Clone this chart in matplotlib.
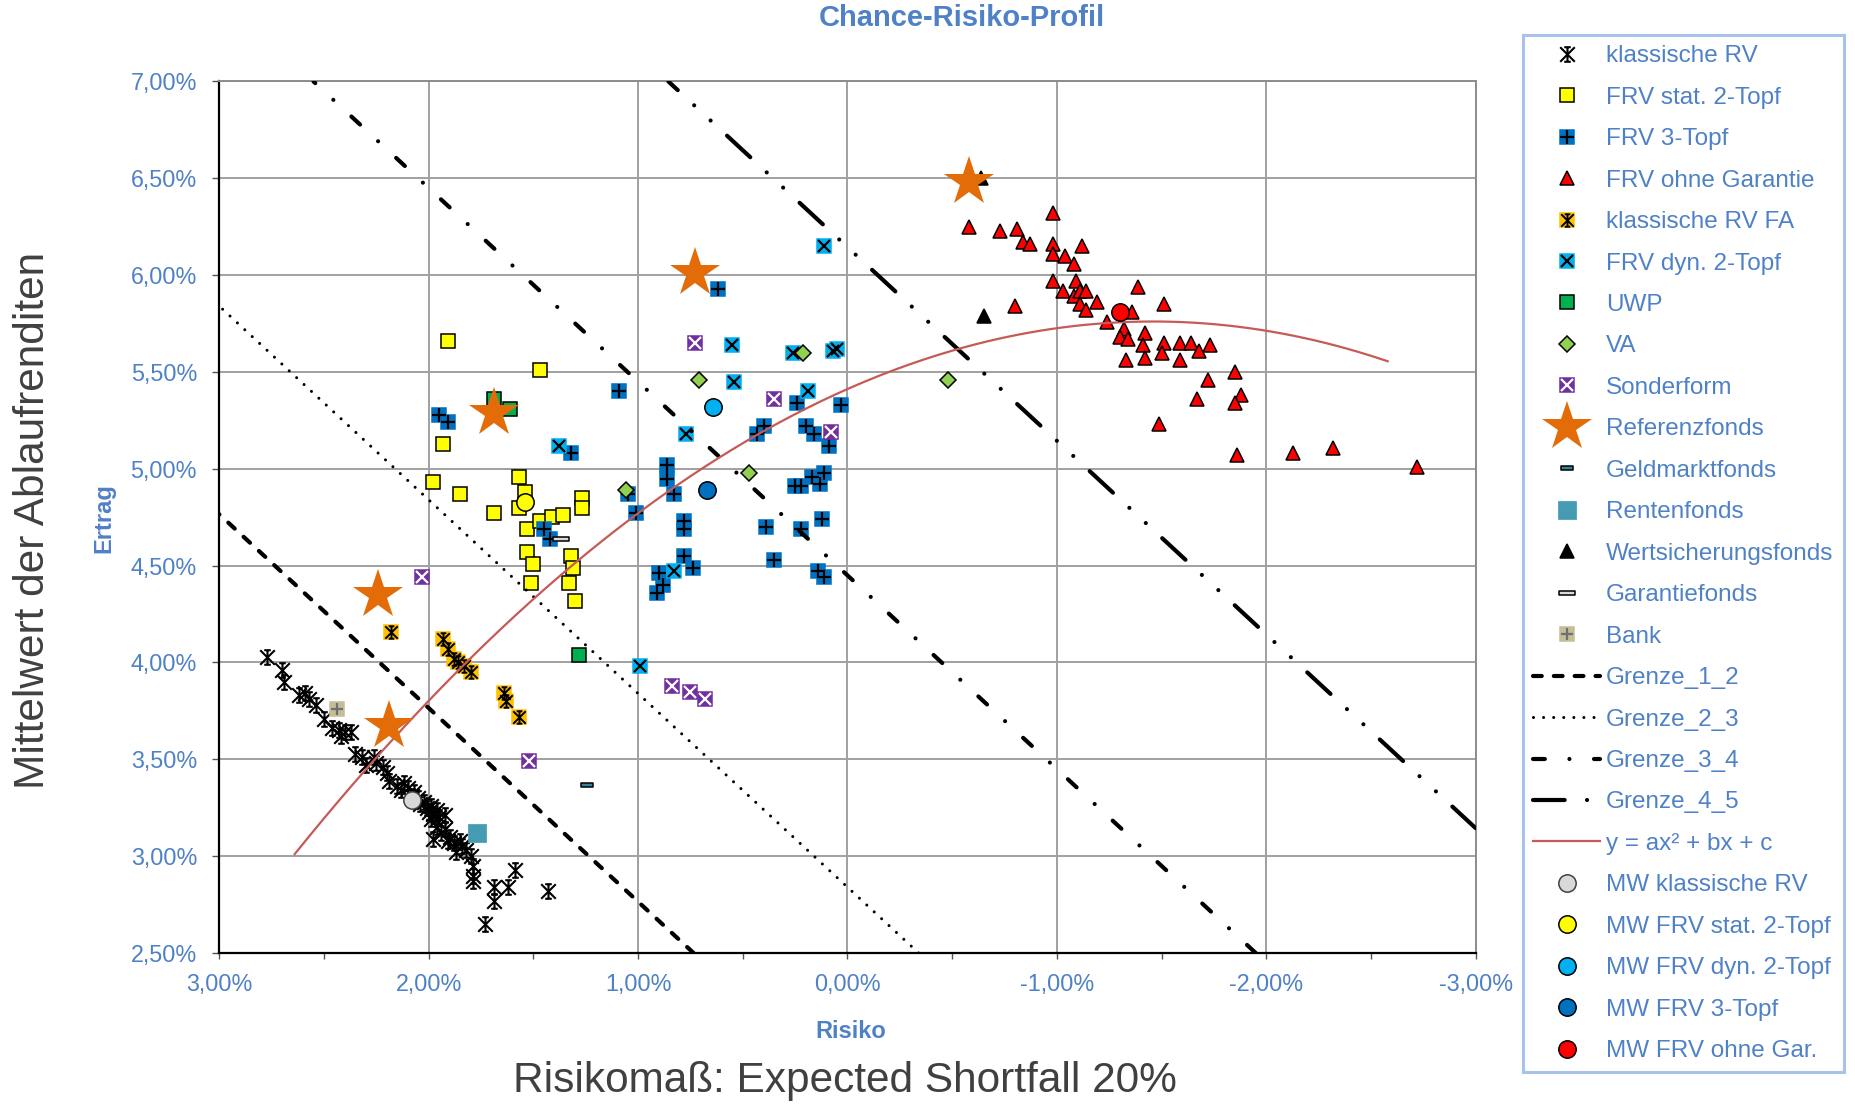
import matplotlib.pyplot as plt
import numpy as np
from matplotlib.path import Path
from matplotlib.ticker import MultipleLocator, FuncFormatter

plt.rcParams['font.family'] = ['Liberation Sans', 'DejaVu Sans']

BLUE_TEXT = '#4F81C7'

# ---------------- data (Risiko %, Ertrag %) ----------------
krv_risk = [2.77, 2.70, 2.69, 2.62, 2.59, 2.57, 2.54, 2.50, 2.46, 2.43, 2.40, 2.37, 2.42, 2.35,
            2.32, 2.30, 2.26, 2.25, 2.22, 2.20, 2.19, 2.15, 2.13, 2.12, 2.10, 2.08, 2.07, 2.05,
            2.04, 2.02, 2.01, 1.99, 1.98, 2.00, 1.96, 1.95, 1.92, 1.99, 1.96, 1.94, 1.92, 1.98,
            1.91, 1.90, 1.88, 1.85, 1.87, 1.84, 1.82, 1.80, 1.79, 1.79, 1.79, 1.69, 1.69, 1.62,
            1.59, 1.43, 1.73]
krv_ret = [4.03, 3.96, 3.90, 3.83, 3.84, 3.81, 3.78, 3.71, 3.66, 3.65, 3.64, 3.64, 3.62, 3.53,
           3.51, 3.47, 3.51, 3.48, 3.46, 3.43, 3.39, 3.36, 3.34, 3.38, 3.35, 3.31, 3.33, 3.30,
           3.27, 3.28, 3.25, 3.26, 3.22, 3.23, 3.24, 3.20, 3.21, 3.19, 3.15, 3.12, 3.14, 3.09,
           3.08, 3.10, 3.07, 3.08, 3.02, 3.05, 3.03, 3.00, 2.95, 2.90, 2.87, 2.84, 2.77, 2.84,
           2.93, 2.82, 2.65]

stat2_risk = [1.91, 1.47, 1.93, 1.98, 1.85, 1.69, 1.57, 1.54, 1.57, 1.53, 1.47, 1.41, 1.36,
              1.27, 1.27, 1.53, 1.50, 1.32, 1.31, 1.51, 1.33, 1.30]
stat2_ret = [5.66, 5.51, 5.13, 4.93, 4.87, 4.77, 4.96, 4.88, 4.80, 4.69, 4.73, 4.75, 4.76,
             4.85, 4.80, 4.57, 4.51, 4.55, 4.49, 4.41, 4.41, 4.32]

top3_risk = [1.95, 1.91, 1.32, 1.09, 1.45, 1.42, 1.05, 1.01, 0.86, 0.86, 0.83, 0.78, 0.78,
             0.78, 0.74, 0.90, 0.88, 0.91, 0.62, 0.24, 0.03, 0.40, 0.43, 0.20, 0.16, 0.09,
             0.25, 0.22, 0.17, 0.11, 0.13, 0.39, 0.22, 0.12, 0.35, 0.14, 0.11]
top3_ret = [5.28, 5.24, 5.08, 5.40, 4.69, 4.64, 4.87, 4.77, 5.02, 4.95, 4.87, 4.73, 4.69,
            4.55, 4.49, 4.46, 4.40, 4.36, 5.93, 5.34, 5.33, 5.22, 5.18, 5.22, 5.18, 5.12,
            4.91, 4.91, 4.96, 4.98, 4.92, 4.70, 4.69, 4.74, 4.53, 4.47, 4.44]

ohne_risk = [-0.58, -0.73, -0.81, -0.84, -0.87, -0.98, -0.98, -0.98, -1.04, -1.12, -1.08,
             -0.98, -1.03, -1.09, -1.08, -1.11, -1.14, -1.11, -1.14, -1.19, -1.39, -0.80,
             -1.51, -1.24, -1.36, -1.32, -1.30, -1.34, -1.42, -1.41, -1.51, -1.50, -1.59,
             -1.64, -1.68, -1.73, -1.33, -1.42, -1.59, -1.85, -1.72, -1.88, -1.85, -1.67,
             -1.49, -1.86, -2.13, -2.32, -2.72]
ohne_ret = [6.25, 6.23, 6.24, 6.17, 6.16, 6.32, 6.16, 6.11, 6.10, 6.15, 6.06,
            5.97, 5.92, 5.97, 5.89, 5.92, 5.92, 5.85, 5.82, 5.86, 5.94, 5.84,
            5.85, 5.76, 5.81, 5.72, 5.68, 5.67, 5.70, 5.64, 5.65, 5.60, 5.65,
            5.65, 5.61, 5.64, 5.56, 5.57, 5.56, 5.50, 5.46, 5.38, 5.34, 5.36,
            5.23, 5.07, 5.08, 5.11, 5.01]

fa_risk = [2.18, 1.93, 1.91, 1.88, 1.86, 1.83, 1.80, 1.64, 1.63, 1.57]
fa_ret = [4.16, 4.12, 4.07, 4.02, 4.00, 3.98, 3.95, 3.84, 3.80, 3.72]

dyn2_risk = [1.38, 0.77, 0.83, 0.11, 0.55, 0.26, 0.07, 0.05, 0.54, 0.19, 0.99]
dyn2_ret = [5.12, 5.18, 4.47, 6.15, 5.64, 5.60, 5.61, 5.62, 5.45, 5.40, 3.98]

uwp_risk = [1.69, 1.61, 1.28]
uwp_ret = [5.36, 5.31, 4.04]

va_risk = [0.71, 0.21, 0.47, 1.06, -0.48]
va_ret = [5.46, 5.60, 4.98, 4.89, 5.46]

sonder_risk = [0.73, 0.35, 0.08, 2.03, 1.52, 0.84, 0.75, 0.68]
sonder_ret = [5.65, 5.36, 5.19, 4.44, 3.49, 3.88, 3.85, 3.81]

ref_risk = [2.24, 2.19, 1.69, 0.73, -0.58]
ref_ret = [4.35, 3.67, 5.29, 6.01, 6.48]

geld_risk, geld_ret = [1.245], [3.37]
renten_risk, renten_ret = [1.77], [3.12]
wert_risk, wert_ret = [-0.65, -0.64], [5.79, 6.50]
garantie_risk, garantie_ret = [1.37], [4.64]
bank_risk, bank_ret = [2.44], [3.76]

# boundary lines: Ertrag = Risiko + intercept
grenze_slope = 1.0
grenze_intercepts = [1.765, 2.84, 4.45, 6.145]
grenze_names = ['Grenze_1_2', 'Grenze_2_3', 'Grenze_3_4', 'Grenze_4_5']

# quadratic trend y = ax^2 + bx + c, drawn between its two end points
fit_coef = [-0.1636, -0.4777, 5.412]
fit_range = [2.64, -2.58]

mw_names = ['MW klassische RV', 'MW FRV stat. 2-Topf', 'MW FRV dyn. 2-Topf',
            'MW FRV 3-Topf', 'MW FRV ohne Gar.']
mw_risk = [2.08, 1.54, 0.64, 0.67, -1.30]
mw_ret = [3.29, 4.83, 5.32, 4.89, 5.81]
mw_colors = ['#D9D9D9', '#FFFF00', '#00B0F0', '#0070C0', '#FF0000']


def asterisk_path():
    verts = [(-1, -1), (1, 1), (-1, 1), (1, -1), (0, -1), (0, 1),
             (-0.45, 1), (0.45, 1), (-0.45, -1), (0.45, -1)]
    return Path(verts, [Path.MOVETO, Path.LINETO] * 5)


def bar_path(h):
    verts = [(-1, -h), (1, -h), (1, h), (-1, h), (-1, -h)]
    return Path(verts, [Path.MOVETO, Path.LINETO, Path.LINETO, Path.LINETO, Path.CLOSEPOLY])


fig = plt.figure(figsize=(18.56, 11.04), dpi=100)
ax = fig.add_axes([0.11816, 0.13678, 0.67688, 0.78940])


def pts(x, y, **kw):
    return ax.plot(x, y, linestyle='none', **kw)[0]


SQ = 10.2
EDGE = 1.1
star = asterisk_path()

h_krv = pts(krv_risk, krv_ret, marker=star, ms=10.5, mfc='none', mec='black', mew=1.5, zorder=3)
h_stat2 = pts(stat2_risk, stat2_ret, marker='s', ms=SQ, mfc='#FFFF00', mec='black', mew=EDGE, zorder=3)
h_top3a = pts(top3_risk, top3_ret, marker='s', ms=SQ, mfc='#0070C0', mec='#0070C0', mew=EDGE, zorder=3)
h_top3b = pts(top3_risk, top3_ret, marker='+', ms=9.5, mec='black', mew=1.6, zorder=3)
h_ohne = pts(ohne_risk, ohne_ret, marker='^', ms=10.5, mfc='#FF0000', mec='black', mew=EDGE, zorder=3)
h_faa = pts(fa_risk, fa_ret, marker='s', ms=SQ, mfc='#FFC000', mec='#FFC000', mew=EDGE, zorder=3)
h_fab = pts(fa_risk, fa_ret, marker=star, ms=9, mfc='none', mec='black', mew=1.4, zorder=3)
h_dyna = pts(dyn2_risk, dyn2_ret, marker='s', ms=SQ, mfc='#00B0F0', mec='#00B0F0', mew=EDGE, zorder=3)
h_dynb = pts(dyn2_risk, dyn2_ret, marker='x', ms=8.5, mec='black', mew=1.6, zorder=3)
h_uwp = pts(uwp_risk, uwp_ret, marker='s', ms=SQ, mfc='#00B050', mec='black', mew=EDGE, zorder=3)
h_va = pts(va_risk, va_ret, marker='D', ms=8, mfc='#92D050', mec='black', mew=EDGE, zorder=3)
h_sona = pts(sonder_risk, sonder_ret, marker='s', ms=SQ, mfc='#7030A0', mec='#7030A0', mew=EDGE, zorder=3)
h_sonb = pts(sonder_risk, sonder_ret, marker='x', ms=8.5, mec='white', mew=1.6, zorder=3)
h_ref = pts(ref_risk, ref_ret, marker='*', ms=37.5, mfc='#E36C09', mec='#E36C09', mew=0, zorder=8)
h_geld = pts(geld_risk, geld_ret, marker=bar_path(0.4), ms=8, mfc='#31859C', mec='black', mew=EDGE, zorder=3)
h_renten = pts(renten_risk, renten_ret, marker='s', ms=13.5, mfc='#459BB2', mec='#459BB2', mew=0.5, zorder=3)
h_wert = pts(wert_risk, wert_ret, marker='^', ms=10.5, mfc='black', mec='black', mew=EDGE, zorder=3)
h_gar = pts(garantie_risk, garantie_ret, marker=bar_path(0.22), ms=12, mfc='#D9D9D9', mec='black', mew=EDGE, zorder=3)
h_banka = pts(bank_risk, bank_ret, marker='s', ms=SQ, mfc='#C4BD97', mec='#C4BD97', mew=EDGE, zorder=3)
h_bankb = pts(bank_risk, bank_ret, marker='+', ms=8.5, mec='#6F6F6F', mew=1.6, zorder=3)

grenze_styles = [
    dict(lw=3.0, ls=(0, (2.1, 2.9))),
    dict(lw=2.2, ls=(0, (0.001, 3.3))),
    dict(lw=3.0, ls=(0, (2.84, 5.9, 0.001, 5.9))),
    dict(lw=3.0, ls=(0, (7.6, 5.37, 0.001, 5.37, 0.001, 5.37))),
]
h_grenze = []
for c, name, st in zip(grenze_intercepts, grenze_names, grenze_styles):
    h = ax.axline((0, c), slope=grenze_slope, color='black', dash_capstyle='round',
                  zorder=4, label=name, **st)
    h_grenze.append(h)

r_fit = np.linspace(fit_range[0], fit_range[1], 300)
h_fit, = ax.plot(r_fit, np.polyval(fit_coef, r_fit), color='#C65A57', lw=1.6, zorder=5)

h_mw = []
for x, y, col in zip(mw_risk, mw_ret, mw_colors):
    edge = '#404040' if col == '#D9D9D9' else 'black'
    h_mw.append(pts([x], [y], marker='o', ms=12.5, mfc=col, mec=edge, mew=1.1, zorder=6))

# ---------------- axes styling ----------------
ax.set_xlim(3, -3)
ax.set_ylim(2.5, 7.0)
pct = FuncFormatter(lambda v, p: f"{v:.2f}%".replace('.', ','))
ax.xaxis.set_major_locator(MultipleLocator(1.0))
ax.xaxis.set_minor_locator(MultipleLocator(0.5))
ax.yaxis.set_major_locator(MultipleLocator(0.5))
ax.xaxis.set_major_formatter(pct)
ax.yaxis.set_major_formatter(pct)
ax.grid(True, which='major', color='#A0A0A0', lw=1.4)
ax.set_axisbelow(True)
for side in ['left', 'bottom']:
    ax.spines[side].set_color('black')
    ax.spines[side].set_linewidth(1.6)
for side in ['top', 'right']:
    ax.spines[side].set_color('#8C8C8C')
    ax.spines[side].set_linewidth(1.4)
ax.tick_params(axis='y', direction='out', length=5, width=1, pad=11, labelsize=16.8,
               labelcolor=BLUE_TEXT, color='#555555')
ax.tick_params(axis='x', which='both', direction='out', length=4.5, width=1, pad=10,
               labelsize=16.8, labelcolor=BLUE_TEXT, color='#555555')

fig.text(962 / 1856, 1 - 18 / 1104, 'Chance-Risiko-Profil', ha='center', va='center',
         fontsize=21, fontweight='bold', color=BLUE_TEXT)
fig.text(851 / 1856, 1 - 1031 / 1104, 'Risiko', ha='center', va='center',
         fontsize=17, fontweight='bold', color=BLUE_TEXT)
fig.text(104 / 1856, 1 - 518 / 1104, 'Ertrag', ha='center', va='center', rotation=90,
         fontsize=17, fontweight='bold', color=BLUE_TEXT)
fig.text(33 / 1856, 1 - 520 / 1104, 'Mittelwert der Ablaufrenditen', ha='center', va='center',
         rotation=90, fontsize=30.5, color='#404040')
fig.text(845 / 1856, 1 - 1081 / 1104, 'Risikomaß: Expected Shortfall 20%', ha='center',
         va='center', fontsize=30.5, color='#404040')

# ---------------- legend ----------------
handles = [h_krv, h_stat2, (h_top3a, h_top3b), h_ohne, (h_faa, h_fab), (h_dyna, h_dynb),
           h_uwp, h_va, (h_sona, h_sonb), h_ref, h_geld, h_renten, h_wert, h_gar,
           (h_banka, h_bankb)] + h_grenze + [h_fit] + h_mw
labels = ['klassische RV', 'FRV stat. 2-Topf', 'FRV 3-Topf', 'FRV ohne Garantie',
          'klassische RV FA', 'FRV dyn. 2-Topf', 'UWP', 'VA', 'Sonderform', 'Referenzfonds',
          'Geldmarktfonds', 'Rentenfonds', 'Wertsicherungsfonds', 'Garantiefonds', 'Bank'] \
    + grenze_names + ['y = ax² + bx + c'] + mw_names

leg = fig.legend(handles, labels, loc='upper left', bbox_to_anchor=(1523 / 1856, 1 - 35 / 1104),
                 borderaxespad=0, fontsize=17.5, labelspacing=0.8, handlelength=2.75,
                 handletextpad=0.25, borderpad=0.42, labelcolor=BLUE_TEXT, fancybox=False,
                 edgecolor='#A9C2EA', framealpha=1)
leg.get_frame().set_linewidth(2.2)

fig.savefig('out.png', dpi=100)
